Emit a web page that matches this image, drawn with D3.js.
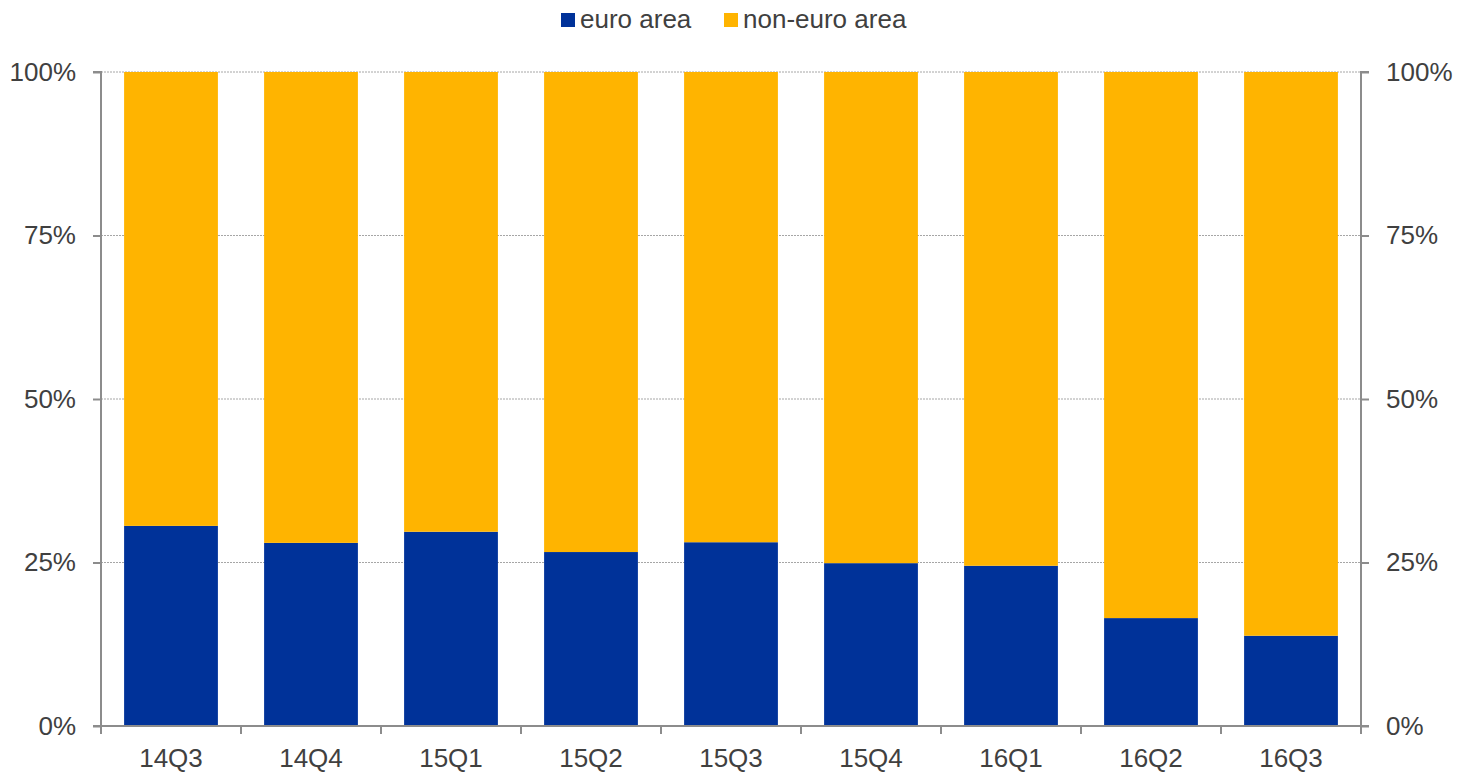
<!DOCTYPE html>
<html>
<head>
<meta charset="utf-8">
<script src="https://cdn.jsdelivr.net/npm/d3@7"></script>
<style>
  body { margin: 0; background: #fff; }
  text { font-family: "Liberation Sans", Arial, sans-serif; fill: #404040; }
</style>
</head>
<body>
<svg id="chart"></svg>
<script>
// quarters on the x axis
const quarters = ["14Q3", "14Q4", "15Q1", "15Q2", "15Q3", "15Q4", "16Q1", "16Q2", "16Q3"];
// share of euro area (percent); non-euro area is the remainder
const euroArea = [30.6, 28.0, 29.7, 26.6, 28.1, 24.9, 24.5, 16.5, 13.8];
const nonEuroArea = [69.4, 72.0, 70.3, 73.4, 71.9, 75.1, 75.5, 83.5, 86.2];
const yTicks = [0, 25, 50, 75, 100];
const seriesNames = ["euro area", "non-euro area"];
const seriesColors = ["#003299", "#FFB400"];

const width = 1461, height = 778;
const margin = { top: 72, right: 100, bottom: 52, left: 101 };
const innerW = width - margin.left - margin.right;
const innerH = height - margin.top - margin.bottom;
const fontSize = "26px";

const svg = d3.select("#chart").attr("width", width).attr("height", height);
const g = svg.append("g").attr("transform", `translate(${margin.left},${margin.top})`);

const x = d3.scaleBand().domain(quarters).range([0, innerW]).paddingInner(0.33).paddingOuter(0.165);
const y = d3.scaleLinear().domain([0, 100]).range([innerH, 0]);

// gridlines (behind bars)
g.append("g")
  .selectAll("line")
  .data(yTicks.filter((t) => t > 0))
  .enter()
  .append("line")
  .attr("x1", 0)
  .attr("x2", innerW)
  .attr("y1", (d) => y(d))
  .attr("y2", (d) => y(d))
  .attr("stroke", "#a6a6a6")
  .attr("stroke-width", 1)
  .attr("stroke-dasharray", "2,1");

// stacked bars
const rows = quarters.map((q, i) => ({ q, euro: euroArea[i], nonEuro: nonEuroArea[i] }));
const stack = d3.stack().keys(["euro", "nonEuro"]);
const layers = stack(rows);

g.append("g")
  .selectAll("g")
  .data(layers)
  .enter()
  .append("g")
  .attr("fill", (d, i) => seriesColors[i])
  .selectAll("rect")
  .data((d) => d)
  .enter()
  .append("rect")
  .attr("x", (d) => x(d.data.q))
  .attr("width", x.bandwidth())
  .attr("y", (d) => y(d[1]))
  .attr("height", (d) => y(d[0]) - y(d[1]));

const axisColor = "#8c8c8c";
const fmt = (d) => d + "%";

// left and right axes
const left = g.append("g").call(d3.axisLeft(y).tickValues(yTicks).tickFormat(fmt).tickSize(8).tickPadding(17));
const right = g.append("g").attr("transform", `translate(${innerW},0)`)
  .call(d3.axisRight(y).tickValues(yTicks).tickFormat(fmt).tickSize(8).tickPadding(17));

// bottom axis: ticks at category boundaries
const bottom = g.append("g").attr("transform", `translate(0,${innerH})`)
  .call(d3.axisBottom(x).tickSize(0).tickPadding(23));
const boundaries = d3.range(quarters.length + 1).map((i) => i * (innerW / quarters.length));
bottom.selectAll("line.bound")
  .data(boundaries)
  .enter()
  .append("line")
  .attr("class", "bound")
  .attr("x1", (d) => d)
  .attr("x2", (d) => d)
  .attr("y1", 0)
  .attr("y2", 8)
  .attr("stroke", axisColor)
  .attr("stroke-width", 2);

[left, right, bottom].forEach((ax) => {
  ax.select(".domain").attr("stroke", axisColor).attr("stroke-width", 2);
  ax.selectAll(".tick line").attr("stroke", axisColor).attr("stroke-width", 2);
  ax.selectAll("text")
    .style("font-size", fontSize)
    .style("font-family", "'Liberation Sans', Arial, sans-serif")
    .attr("fill", "#404040");
});
left.select(".domain").attr("d", `M-8,${innerH}H0V0H-8`);
right.select(".domain").attr("d", `M8,${innerH}H0V0H8`);
bottom.select(".domain").attr("d", `M0,0H${innerW}`);

// legend
const legend = svg.append("g").attr("transform", "translate(561,13)");
const legendX = [0, 163];
seriesNames.forEach((name, i) => {
  const item = legend.append("g").attr("transform", `translate(${legendX[i]},0)`);
  item.append("rect").attr("width", 14).attr("height", 14).attr("fill", seriesColors[i]);
  item.append("text")
    .attr("x", 19)
    .attr("y", 15)
    .style("font-size", fontSize)
    .text(name);
});
</script>
</body>
</html>
